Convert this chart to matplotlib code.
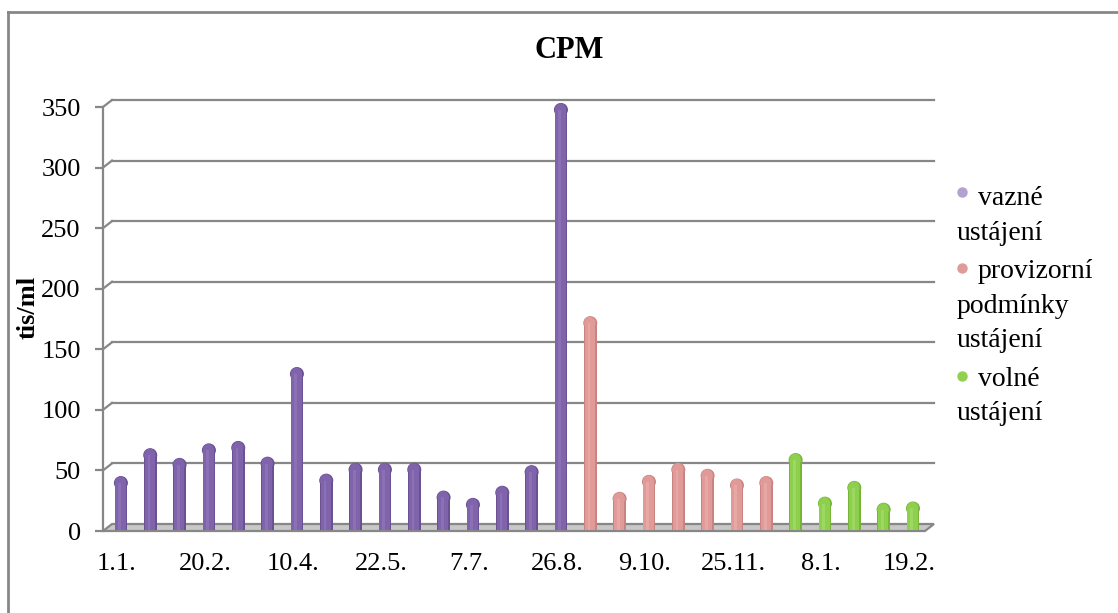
import matplotlib.pyplot as plt
from matplotlib.patches import Ellipse, Polygon
from matplotlib.transforms import blended_transform_factory, ScaledTranslation

plt.rcParams['font.family'] = ['Liberation Serif', 'DejaVu Serif']

# CPM (tis/ml), one value per sampling date
vazne = [39, 62, 54, 66, 68, 55, 129, 41, 50, 50, 50, 27, 21, 31, 48, 347]
provizorni = [171, 26, 40, 50, 45, 37, 39]
volne = [58, 22, 35, 17, 18]
date_labels = ["1.1.", "20.2.", "10.4.", "22.5.", "7.7.", "26.8.", "9.10.", "25.11.", "8.1.", "19.2."]
yticks = [0, 50, 100, 150, 200, 250, 300, 350]

groups = [
    (vazne, "#6a5191", "#7f63ab", "#9a82c4"),
    (provizorni, "#c98482", "#e09a98", "#efb8b6"),
    (volne, "#76b538", "#8fcf4e", "#b0e37b"),
]

fig = plt.figure(figsize=(11.18, 6.13), dpi=100)
W, H = 1118, 613
ax = fig.add_axes([103 / W, (H - 531) / H, (925 - 103) / W, (531 - 107) / H])
ax.set_xlim(-0.61, 27.41)
ax.set_ylim(0, 350)

grey = "#878787"
# 3d depth offset of the back wall in pixels
dx_px, dy_px = 9, 7
ax_w = (925 - 103)
ax_h = (531 - 107)
dxa = dx_px / ax_w
dyd = dy_px * 350 / ax_h
bt = blended_transform_factory(ax.transAxes, ax.transData)

for v in yticks[1:]:
    ax.plot([0, dxa], [v, v + dyd], color=grey, lw=1.6, transform=bt, clip_on=False, zorder=0.5)
    ax.plot([dxa, 1 + dxa], [v + dyd, v + dyd], color=grey, lw=1.6, transform=bt,
            clip_on=False, zorder=0.5)

floor = Polygon([[0, 0], [1, 0], [1 + dxa, dyd], [dxa, dyd]], closed=True, transform=bt,
                facecolor="#c8c8c8", edgecolor=grey, lw=1.6, clip_on=False, zorder=1)
ax.add_patch(floor)

# cylinders with rounded tops, standing on the back edge of the floor
bar_tr = ax.transData + ScaledTranslation(0, dy_px / 100, fig.dpi_scale_trans)
bw = 0.43
r = 6.2 * 350 / ax_h  # cap radius in data units
base = -5
x = 0
for vals, dark, mid, light in groups:
    for v in vals:
        ax.bar(x, v - r - base, width=bw, bottom=base, color=dark, zorder=2, clip_on=False,
               transform=bar_tr)
        ax.add_patch(Ellipse((x, v - r), bw, 2 * r, color=dark, zorder=2, clip_on=False,
                             transform=bar_tr))
        ax.bar(x - 0.015, v - r - base, width=bw * 0.8, bottom=base, color=mid, zorder=2.1,
               clip_on=False, transform=bar_tr)
        ax.add_patch(Ellipse((x - 0.015, v - r), bw * 0.8, 1.85 * r, color=mid, zorder=2.1,
                             clip_on=False, transform=bar_tr))
        ax.bar(x - 0.04, v - r - base, width=bw * 0.22, bottom=base, color=light, alpha=0.45,
               zorder=2.2, clip_on=False, transform=bar_tr)
        x += 1

for s in ["top", "right", "bottom"]:
    ax.spines[s].set_visible(False)
ax.spines["left"].set_color(grey)
ax.spines["left"].set_linewidth(1.6)

ax.set_yticks(yticks)
ax.set_xticks(range(0, 28, 3))
ax.set_xticklabels(date_labels)
ax.tick_params(axis="y", length=6, width=1.6, color=grey, pad=10, labelsize=19)
ax.tick_params(axis="x", length=0, pad=16, labelsize=19)
for lab in ax.get_xticklabels():
    lab.set_transform(lab.get_transform() + ScaledTranslation(-0.04, 0, fig.dpi_scale_trans))

fig.text(569 / W, 1 - 50 / H, "CPM", ha="center", va="center", fontsize=22, fontweight="bold")
fig.text(28 / W, 1 - 307 / H, "tis/ml", ha="center", va="center", rotation=90,
         fontsize=19, fontweight="bold")

# legend
leg_dots = [("#b3a2d1", 192), ("#e09a98", 268), ("#92d050", 376)]
for c, yp in leg_dots:
    fig.add_artist(plt.Line2D([962 / W], [1 - yp / H], marker="o", markersize=6.5,
                              color=c, transform=fig.transFigure))
leg_lines = [(978, 205, "vazné"), (957, 240, "ustájení"), (978, 278, "provizorní"),
             (957, 313, "podmínky"), (957, 347, "ustájení"), (978, 386, "volné"),
             (957, 420, "ustájení")]
for xp, yp, t in leg_lines:
    fig.text(xp / W, 1 - yp / H, t, ha="left", va="baseline", fontsize=20)

# outer frame (top and left edges visible)
fig.add_artist(plt.Line2D([8 / W, 1], [1 - 12 / H, 1 - 12 / H], color=grey, lw=2,
                          transform=fig.transFigure))
fig.add_artist(plt.Line2D([8 / W, 8 / W], [0, 1 - 12 / H], color=grey, lw=2,
                          transform=fig.transFigure))

fig.savefig("out.png", dpi=100)
